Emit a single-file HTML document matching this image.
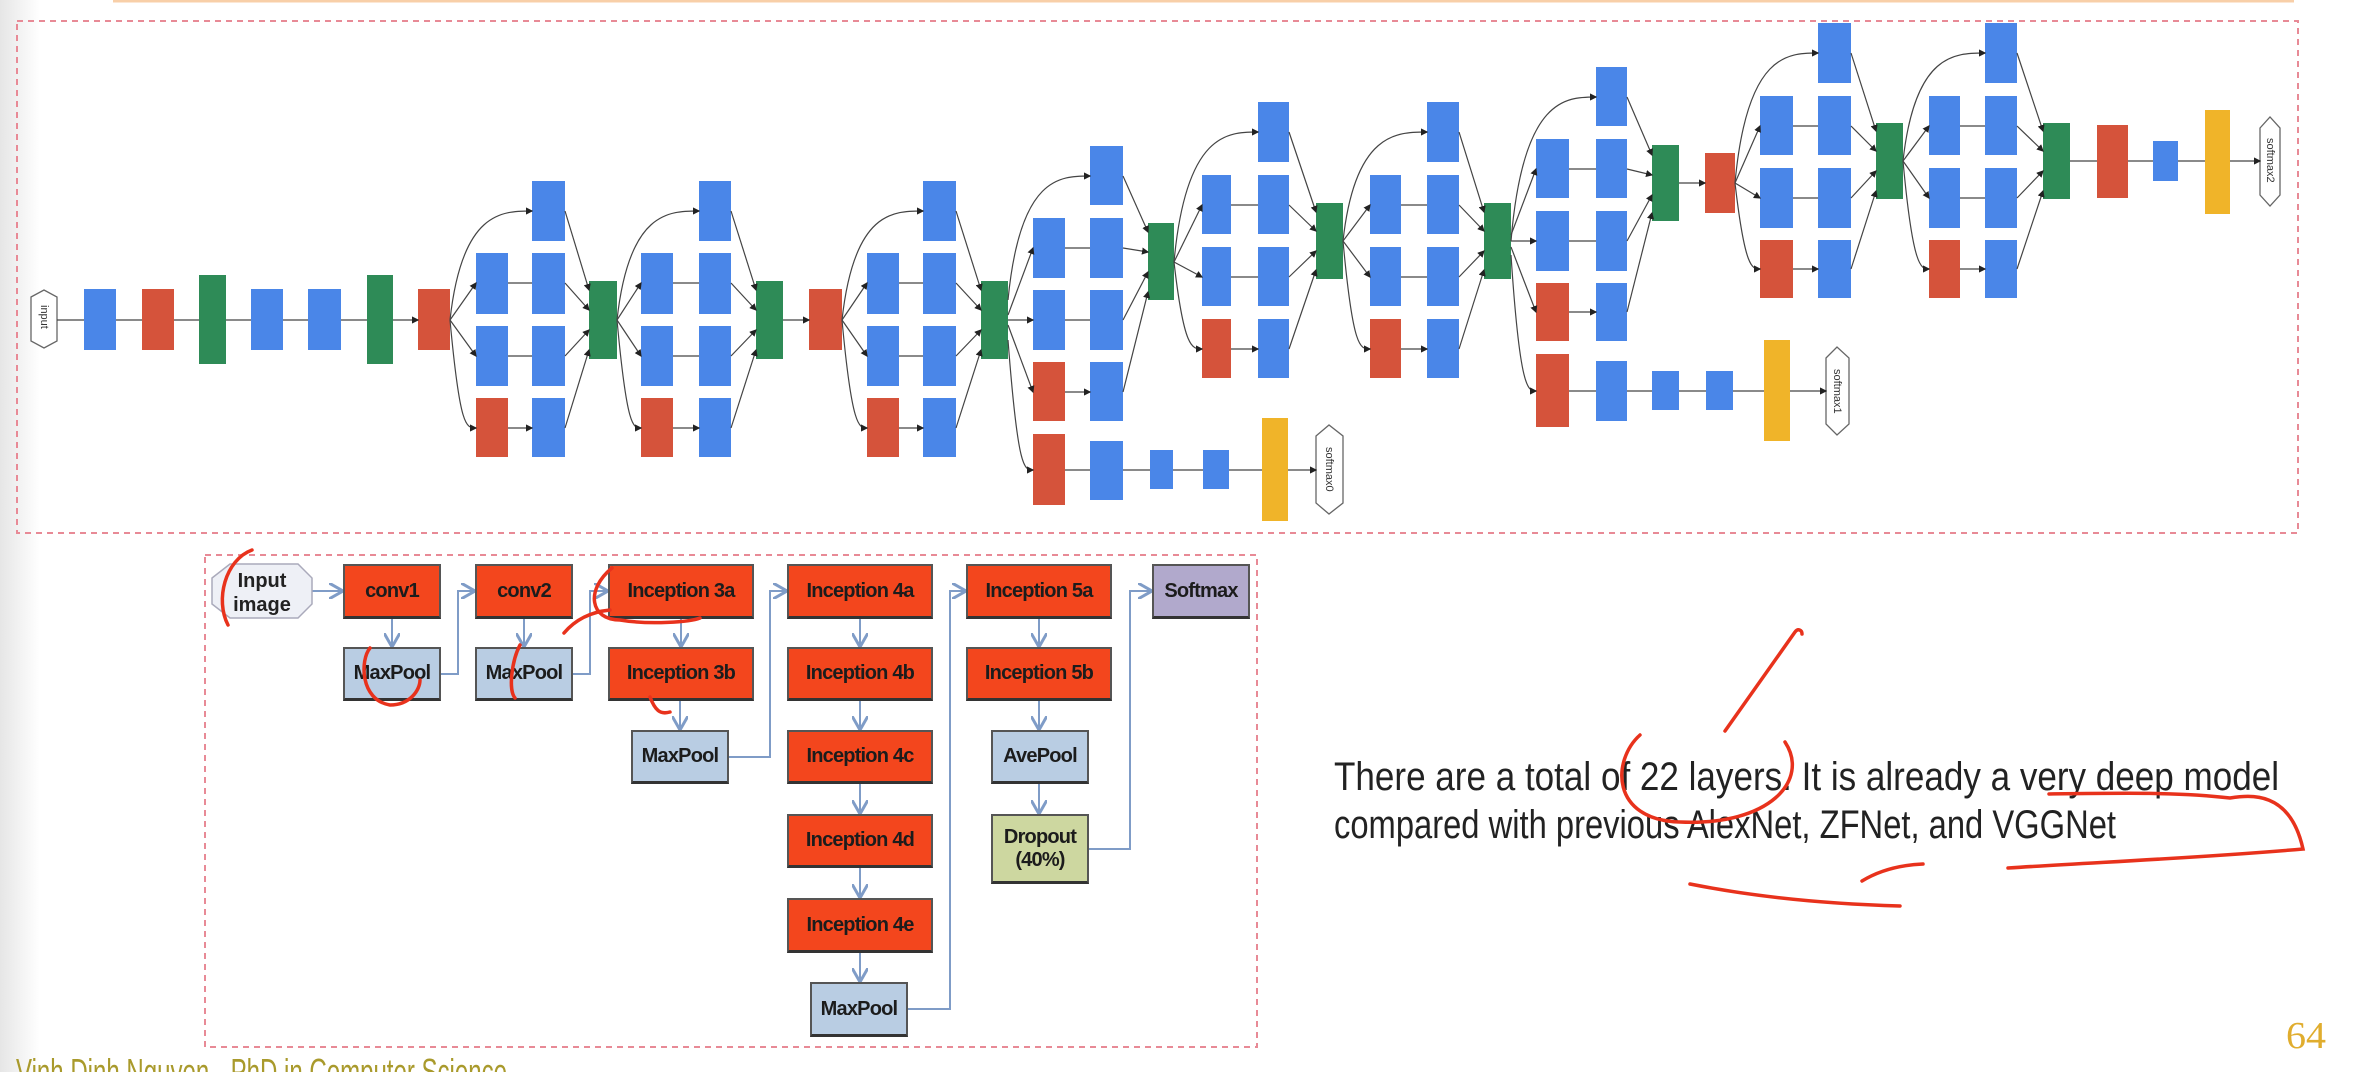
<!DOCTYPE html>
<html><head><meta charset="utf-8"><style>
html,body{margin:0;padding:0}
body{width:2362px;height:1072px;position:relative;overflow:hidden;background:#fff;font-family:"Liberation Sans",sans-serif}
.lg{position:absolute;left:0;top:0;width:40px;height:1072px;background:linear-gradient(90deg,#e6e6e6,#fff)}
.b{position:absolute;box-sizing:border-box;display:flex;align-items:center;justify-content:center;text-align:center;font-weight:bold;font-size:20px;color:#1c1c1c;line-height:1.15;border:2px solid #555;border-bottom:3px solid #333;letter-spacing:-0.8px;white-space:nowrap}
.r{background:#f3461d}
.g{background:#b9cde3}
.p{background:#b1a9cc}
.o{background:#cdd7a0}
</style></head><body>
<div class="lg"></div>
<svg width="2362" height="1072" style="position:absolute;left:0;top:0">
<defs><marker id="a" markerWidth="6" markerHeight="6" refX="5" refY="3" orient="auto"><path d="M0,0 L6,3 L0,6z" fill="#222"/></marker>
<marker id="bl" markerWidth="8" markerHeight="8" refX="6" refY="4" orient="auto"><path d="M0,0 L7,4 L0,8" fill="none" stroke="#7f9cc7" stroke-width="1.5"/></marker></defs>
<line x1="113" y1="1" x2="2294" y2="1" stroke="#f8cfa8" stroke-width="3"/>
<rect x="17" y="21" width="2281" height="512" fill="none" stroke="#e88a96" stroke-width="2" stroke-dasharray="6,5"/>
<rect x="205" y="555" width="1052" height="492" fill="none" stroke="#e88a96" stroke-width="2" stroke-dasharray="6,5"/>
<g fill="#4a86e8">
<rect x="84" y="289" width="32" height="61"/><rect x="251" y="289" width="32" height="61"/><rect x="308" y="289" width="33" height="61"/>
<rect x="476" y="253" width="32" height="61"/><rect x="476" y="326" width="32" height="60"/>
<rect x="532" y="181" width="33" height="60"/><rect x="532" y="253" width="33" height="61"/><rect x="532" y="326" width="33" height="60"/><rect x="532" y="398" width="33" height="59"/>
<rect x="641" y="253" width="32" height="61"/><rect x="641" y="326" width="32" height="60"/>
<rect x="699" y="181" width="32" height="60"/><rect x="699" y="253" width="32" height="61"/><rect x="699" y="326" width="32" height="60"/><rect x="699" y="398" width="32" height="59"/>
<rect x="867" y="253" width="32" height="61"/><rect x="867" y="326" width="32" height="60"/>
<rect x="923" y="181" width="33" height="60"/><rect x="923" y="253" width="33" height="61"/><rect x="923" y="326" width="33" height="60"/><rect x="923" y="398" width="33" height="59"/>
<rect x="1033" y="218" width="32" height="60"/><rect x="1033" y="290" width="32" height="60"/>
<rect x="1090" y="146" width="33" height="59"/><rect x="1090" y="218" width="33" height="60"/><rect x="1090" y="290" width="33" height="60"/><rect x="1090" y="362" width="33" height="59"/>
<rect x="1090" y="441" width="33" height="59"/><rect x="1150" y="450" width="23" height="39"/><rect x="1203" y="450" width="26" height="39"/>
<rect x="1202" y="175" width="29" height="59"/><rect x="1202" y="247" width="29" height="59"/>
<rect x="1258" y="102" width="31" height="60"/><rect x="1258" y="175" width="31" height="59"/><rect x="1258" y="247" width="31" height="59"/><rect x="1258" y="319" width="31" height="59"/>
<rect x="1370" y="175" width="31" height="59"/><rect x="1370" y="247" width="31" height="59"/>
<rect x="1427" y="102" width="32" height="60"/><rect x="1427" y="175" width="32" height="59"/><rect x="1427" y="247" width="32" height="59"/><rect x="1427" y="319" width="32" height="59"/>
<rect x="1536" y="139" width="33" height="59"/><rect x="1536" y="211" width="33" height="60"/>
<rect x="1596" y="67" width="31" height="59"/><rect x="1596" y="139" width="31" height="59"/><rect x="1596" y="211" width="31" height="60"/><rect x="1596" y="283" width="31" height="58"/>
<rect x="1596" y="361" width="31" height="60"/><rect x="1652" y="371" width="27" height="39"/><rect x="1706" y="371" width="27" height="39"/>
<rect x="1760" y="96" width="33" height="59"/><rect x="1760" y="168" width="33" height="60"/>
<rect x="1818" y="23" width="33" height="60"/><rect x="1818" y="96" width="33" height="59"/><rect x="1818" y="168" width="33" height="60"/><rect x="1818" y="240" width="33" height="58"/>
<rect x="1929" y="96" width="31" height="59"/><rect x="1929" y="168" width="31" height="60"/>
<rect x="1985" y="23" width="32" height="60"/><rect x="1985" y="96" width="32" height="59"/><rect x="1985" y="168" width="32" height="60"/><rect x="1985" y="240" width="32" height="58"/>
<rect x="2153" y="141" width="25" height="40"/>
</g>
<g fill="#d5533b">
<rect x="142" y="289" width="32" height="61"/><rect x="418" y="289" width="32" height="61"/>
<rect x="476" y="398" width="32" height="59"/><rect x="641" y="398" width="32" height="59"/><rect x="809" y="289" width="33" height="61"/><rect x="867" y="398" width="32" height="59"/>
<rect x="1033" y="362" width="32" height="59"/><rect x="1033" y="434" width="32" height="71"/>
<rect x="1202" y="319" width="29" height="59"/><rect x="1370" y="319" width="31" height="59"/>
<rect x="1536" y="283" width="33" height="58"/><rect x="1536" y="354" width="33" height="73"/>
<rect x="1705" y="153" width="30" height="60"/><rect x="1760" y="240" width="33" height="58"/><rect x="1929" y="240" width="31" height="58"/>
<rect x="2097" y="125" width="31" height="73"/>
</g>
<g fill="#2e8b57">
<rect x="199" y="275" width="27" height="89"/><rect x="367" y="275" width="26" height="89"/>
<rect x="589" y="281" width="28" height="78"/><rect x="756" y="281" width="27" height="78"/><rect x="981" y="281" width="27" height="78"/>
<rect x="1148" y="223" width="26" height="77"/><rect x="1316" y="203" width="27" height="76"/><rect x="1484" y="203" width="27" height="76"/>
<rect x="1652" y="145" width="27" height="76"/><rect x="1876" y="123" width="27" height="76"/><rect x="2043" y="123" width="27" height="76"/>
</g>
<g fill="#f0b429">
<rect x="1262" y="418" width="26" height="103"/><rect x="1764" y="340" width="26" height="101"/><rect x="2205" y="110" width="25" height="104"/>
</g>
<g fill="#fff" stroke="#666" stroke-width="1.3">
<polygon points="31,297 44,290 57,297 57,341 44,348 31,341"/>
<polygon points="1316,436 1329,425 1343,436 1343,503 1329,514 1316,503"/>
<polygon points="1826,358 1837,347 1849,358 1849,424 1837,435 1826,424"/>
<polygon points="2260,128 2270,117 2280,128 2280,195 2270,206 2260,195"/>
</g>
<g font-size="11" fill="#333" font-family="Liberation Sans,sans-serif">
<text transform="translate(41,305) rotate(90)">input</text>
<text transform="translate(1326,447) rotate(90)">softmax0</text>
<text transform="translate(1834,369) rotate(90)">softmax1</text>
<text transform="translate(2267,138) rotate(90)">softmax2</text>
</g>
<g stroke="#444" stroke-width="1.2" fill="none" marker-end="url(#a)">
<path d="M57 320H84M116 320H142M174 320H199M226 320H251M283 320H308M341 320H367M393 320H418"/>
<path d="M450 320C462 211 502 211 532 211"/><path d="M450 320L476 283"/><path d="M450 320L476 356"/><path d="M450 320C460 428 466 428 476 428"/>
<path d="M508 283H532M508 356H532M508 428H532"/>
<path d="M565 211L589 290"/><path d="M565 283L589 310"/><path d="M565 356L589 330"/><path d="M565 428L589 350"/>
<path d="M617 320C629 211 669 211 699 211"/><path d="M617 320L641 283"/><path d="M617 320L641 356"/><path d="M617 320C627 428 633 428 641 428"/>
<path d="M673 283H699M673 356H699M673 428H699"/>
<path d="M731 211L756 290"/><path d="M731 283L756 310"/><path d="M731 356L756 330"/><path d="M731 428L756 350"/>
<path d="M783 320H809"/>
<path d="M842 320C854 211 893 211 923 211"/><path d="M842 320L867 283"/><path d="M842 320L867 356"/><path d="M842 320C852 428 859 428 867 428"/>
<path d="M899 283H923M899 356H923M899 428H923"/>
<path d="M956 211L981 290"/><path d="M956 283L981 310"/><path d="M956 356L981 330"/><path d="M956 428L981 350"/>
<path d="M1008 300C1020 176 1060 176 1090 176"/><path d="M1008 315L1033 248"/><path d="M1008 320L1033 320"/><path d="M1008 325L1033 392"/>
<path d="M1065 248H1090M1065 320H1090M1065 392H1090"/>
<path d="M1123 176L1148 232"/><path d="M1123 248L1148 252"/><path d="M1123 320L1148 272"/><path d="M1123 392L1148 292"/>
<path d="M1008 340C1018 470 1024 470 1033 470"/>
<path d="M1065 470H1090M1123 470H1150M1173 470H1203M1229 470H1262M1288 470H1316"/>
<path d="M1174 262C1186 132 1228 132 1258 132"/><path d="M1174 262L1202 205"/><path d="M1174 262L1202 277"/><path d="M1174 262C1184 349 1192 349 1202 349"/>
<path d="M1231 205H1258M1231 277H1258M1231 349H1258"/>
<path d="M1289 132L1316 212"/><path d="M1289 205L1316 231"/><path d="M1289 277L1316 251"/><path d="M1289 349L1316 270"/>
<path d="M1343 241C1355 132 1397 132 1427 132"/><path d="M1343 241L1370 205"/><path d="M1343 241L1370 277"/><path d="M1343 241C1353 349 1360 349 1370 349"/>
<path d="M1401 205H1427M1401 277H1427M1401 349H1427"/>
<path d="M1459 132L1484 212"/><path d="M1459 205L1484 231"/><path d="M1459 277L1484 251"/><path d="M1459 349L1484 270"/>
<path d="M1511 255C1520 391 1528 391 1536 391"/>
<path d="M1569 391H1596M1627 391H1652M1679 391H1706M1733 391H1764M1790 391H1826"/>
<path d="M1511 241C1523 97 1566 97 1596 97"/><path d="M1511 235L1536 169"/><path d="M1511 241L1536 241"/><path d="M1511 247L1536 312"/>
<path d="M1569 169H1596M1569 241H1596M1569 312H1596"/>
<path d="M1627 97L1652 155"/><path d="M1627 169L1652 175"/><path d="M1627 241L1652 195"/><path d="M1627 312L1652 213"/>
<path d="M1679 183H1705"/>
<path d="M1735 183C1747 53 1788 53 1818 53"/><path d="M1735 183L1760 126"/><path d="M1735 183L1760 198"/><path d="M1735 183C1745 269 1752 269 1760 269"/>
<path d="M1793 126H1818M1793 198H1818M1793 269H1818"/>
<path d="M1851 53L1876 131"/><path d="M1851 126L1876 151"/><path d="M1851 198L1876 171"/><path d="M1851 269L1876 191"/>
<path d="M1903 161C1915 53 1955 53 1985 53"/><path d="M1903 161L1929 126"/><path d="M1903 161L1929 198"/><path d="M1903 161C1913 269 1921 269 1929 269"/>
<path d="M1960 126H1985M1960 198H1985M1960 269H1985"/>
<path d="M2017 53L2043 131"/><path d="M2017 126L2043 151"/><path d="M2017 198L2043 171"/><path d="M2017 269L2043 191"/>
<path d="M2070 161H2097M2128 161H2153M2178 161H2205M2230 161H2260"/>
</g>
<g stroke="#7f9cc7" stroke-width="2" fill="none" marker-end="url(#bl)">
<path d="M312 591H341"/>
<path d="M392 619V645"/><path d="M441 674H458V591H473"/>
<path d="M524 619V645"/><path d="M573 674H590V591H606"/>
<path d="M681 619V645"/><path d="M680 701V728"/><path d="M729 757H770V591H785"/>
<path d="M860 619V645"/><path d="M860 701V728"/><path d="M860 784V812"/><path d="M860 868V896"/><path d="M860 953V980"/>
<path d="M908 1009H950V591H964"/>
<path d="M1039 619V645"/><path d="M1039 701V728"/><path d="M1039 784V812"/><path d="M1089 849H1130V591H1150"/>
</g>
<polygon points="212,578 230,564 298,564 312,578 312,604 298,618 230,618 212,604" fill="#eef0f6" stroke="#aab" stroke-width="1.5"/>
<text x="262" y="587" font-size="20" text-anchor="middle" font-weight="bold" fill="#222" font-family="Liberation Sans,sans-serif">Input</text>
<text x="262" y="611" font-size="20" text-anchor="middle" font-weight="bold" fill="#222" font-family="Liberation Sans,sans-serif">image</text>
<text x="1334" y="790" font-size="40" fill="#222" textLength="945" lengthAdjust="spacingAndGlyphs" font-family="Liberation Sans,sans-serif">There are a total of 22 layers. It is already a very deep model</text>
<text x="1334" y="838" font-size="40" fill="#222" textLength="782" lengthAdjust="spacingAndGlyphs" font-family="Liberation Sans,sans-serif">compared with previous AlexNet, ZFNet, and VGGNet</text>
<text x="2286" y="1048" font-size="38" fill="#e0ad2e" textLength="40" lengthAdjust="spacingAndGlyphs" font-family="Liberation Serif,serif">64</text>
<text x="16" y="1084" font-size="36" fill="#a99a2c" textLength="491" lengthAdjust="spacingAndGlyphs" font-family="Liberation Sans,sans-serif">Vinh Dinh Nguyen - PhD in Computer Science</text>
</svg>
<div class="b r" style="left:343px;top:564px;width:98px;height:55px">conv1</div>
<div class="b r" style="left:475px;top:564px;width:98px;height:55px">conv2</div>
<div class="b r" style="left:608px;top:564px;width:146px;height:55px">Inception 3a</div>
<div class="b r" style="left:787px;top:564px;width:146px;height:55px">Inception 4a</div>
<div class="b r" style="left:966px;top:564px;width:146px;height:55px">Inception 5a</div>
<div class="b p" style="left:1152px;top:564px;width:98px;height:55px">Softmax</div>
<div class="b g" style="left:343px;top:647px;width:98px;height:54px">MaxPool</div>
<div class="b g" style="left:475px;top:647px;width:98px;height:54px">MaxPool</div>
<div class="b r" style="left:608px;top:647px;width:146px;height:54px">Inception 3b</div>
<div class="b r" style="left:787px;top:647px;width:146px;height:54px">Inception 4b</div>
<div class="b r" style="left:966px;top:647px;width:146px;height:54px">Inception 5b</div>
<div class="b g" style="left:631px;top:730px;width:98px;height:54px">MaxPool</div>
<div class="b r" style="left:787px;top:730px;width:146px;height:54px">Inception 4c</div>
<div class="b g" style="left:991px;top:730px;width:98px;height:54px">AvePool</div>
<div class="b r" style="left:787px;top:814px;width:146px;height:54px">Inception 4d</div>
<div class="b o" style="left:991px;top:814px;width:98px;height:70px">Dropout<br>(40%)</div>
<div class="b r" style="left:787px;top:898px;width:146px;height:55px">Inception 4e</div>
<div class="b g" style="left:810px;top:982px;width:98px;height:55px">MaxPool</div>
<svg width="2362" height="1072" style="position:absolute;left:0;top:0;pointer-events:none">
<g stroke="#e8321c" stroke-width="3.5" fill="none" stroke-linecap="round">
<path d="M252 550C225 560 215 600 228 625"/>
<path d="M612 568C585 590 590 620 620 620C650 625 690 622 700 618"/>
<path d="M370 648C360 660 360 700 390 705C410 705 420 690 420 680"/>
<path d="M520 645C512 660 508 690 515 698"/>
<path d="M564 633C575 620 590 612 610 610"/>
<path d="M650 697C655 710 660 715 670 712"/>
<path d="M1640 735C1612 760 1610 820 1680 822C1770 826 1810 780 1785 742"/>
<path d="M1725 731L1795 632C1798 628 1802 630 1802 634"/>
<path d="M2049 794C2120 793 2180 792 2230 798C2250 795 2290 790 2303 849C2200 858 2100 862 2008 868"/>
<path d="M1862 881C1880 870 1900 865 1923 864"/>
<path d="M1690 884C1760 898 1830 904 1900 906"/>
</g></svg>
</body></html>
